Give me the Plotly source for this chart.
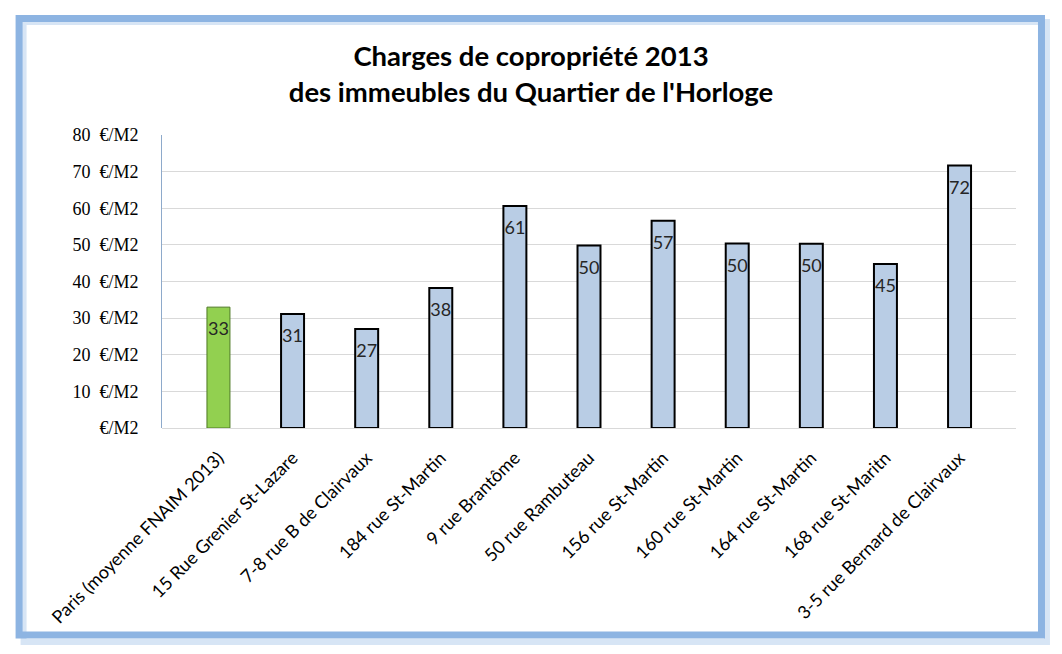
import plotly.graph_objects as go

categories = [
    "Paris (moyenne FNAIM 2013)",
    "15 Rue Grenier St-Lazare",
    "7-8 rue B de Clairvaux",
    "184 rue St-Martin",
    "9 rue Brantôme",
    "50 rue Rambuteau",
    "156 rue St-Martin",
    "160 rue St-Martin",
    "164 rue St-Martin",
    "168 rue St-Maritn",
    "3-5 rue Bernard de Clairvaux",
]
values = [33.0, 31.1, 27.0, 38.2, 60.6, 49.8, 56.6, 50.4, 50.3, 44.8, 71.7]
labels = ["33", "31", "27", "38", "61", "50", "57", "50", "50", "45", "72"]
tick_vals = [0, 10, 20, 30, 40, 50, 60, 70, 80]
tick_text = ["€/M2", "10  €/M2", "20  €/M2", "30  €/M2", "40  €/M2",
             "50  €/M2", "60  €/M2", "70  €/M2", "80  €/M2"]
title_text = "Charges de copropriété 2013<br>des immeubles du Quartier de l'Horloge"

bar_colors = ["#92d050"] + ["#b9cde5"] * (len(categories) - 1)
bar_lines = ["#4e7a25"] + ["#000000"] * (len(categories) - 1)
bar_line_w = [1] + [2] * (len(categories) - 1)

# page body has an 8px margin; figure is sized/offset to fit the 1062x654 window
OFF = 8
W, H = 1062 - 2 * OFF, 654 - 2 * OFF
PL, PR, PT, PB = 161.5, 1016, 135, 428  # plot area in page pixels
PW, PH = PR - PL, PB - PT

def px(x):
    return (x - PL) / PW

def py(y):
    return (PB - y) / PH

fig = go.Figure()
fig.add_trace(go.Bar(
    x=categories, y=values,
    marker=dict(color=bar_colors, line=dict(color=bar_lines, width=bar_line_w)),
    width=0.31, showlegend=False, hoverinfo="x+y",
))
fig.add_trace(go.Scatter(
    x=categories, y=values, mode="markers+text", text=labels,
    textposition="bottom center",
    marker=dict(size=22, color="rgba(0,0,0,0)"),
    textfont=dict(family="Lato", size=18, color="#262626"),
    showlegend=False, hoverinfo="skip",
))

fig.update_layout(
    width=W, height=H,
    margin=dict(l=PL - OFF, r=W - (PR - OFF), t=PT - OFF, b=H - (PB - OFF), pad=0),
    paper_bgcolor="white", plot_bgcolor="white",
    title=dict(text=title_text, x=0.5, xref="container", xanchor="center",
               y=1 - (66 - OFF) / H, yanchor="middle",
               font=dict(family="Lato", size=27.5, color="#000000", weight="bold")),
    xaxis=dict(tickangle=-45, tickfont=dict(family="Lato", size=18, color="#000000"),
               showgrid=False, showline=False, ticks="", ticklabelstandoff=15),
    yaxis=dict(range=[0, 80], tickvals=tick_vals, ticktext=tick_text,
               tickfont=dict(family="Liberation Serif", size=18, color="#000000"),
               showgrid=True, gridcolor="#d9d9d9", gridwidth=1,
               zeroline=True, zerolinecolor="#d9d9d9", zerolinewidth=1,
               showline=True, linecolor="#8eaacb", linewidth=1,
               ticks="", ticklabelstandoff=19),
    shapes=[
        dict(type="rect", xref="paper", yref="paper",
             x0=px(23), x1=px(1047), y0=py(642), y1=py(22),
             line=dict(color="rgba(141,180,226,0.35)", width=6), layer="below"),
        dict(type="rect", xref="paper", yref="paper",
             x0=px(18.5), x1=px(1041.5), y0=py(635), y1=py(18.5),
             line=dict(color="#8db4e2", width=7), layer="above"),
    ],
)

fig.write_html("out.html")
